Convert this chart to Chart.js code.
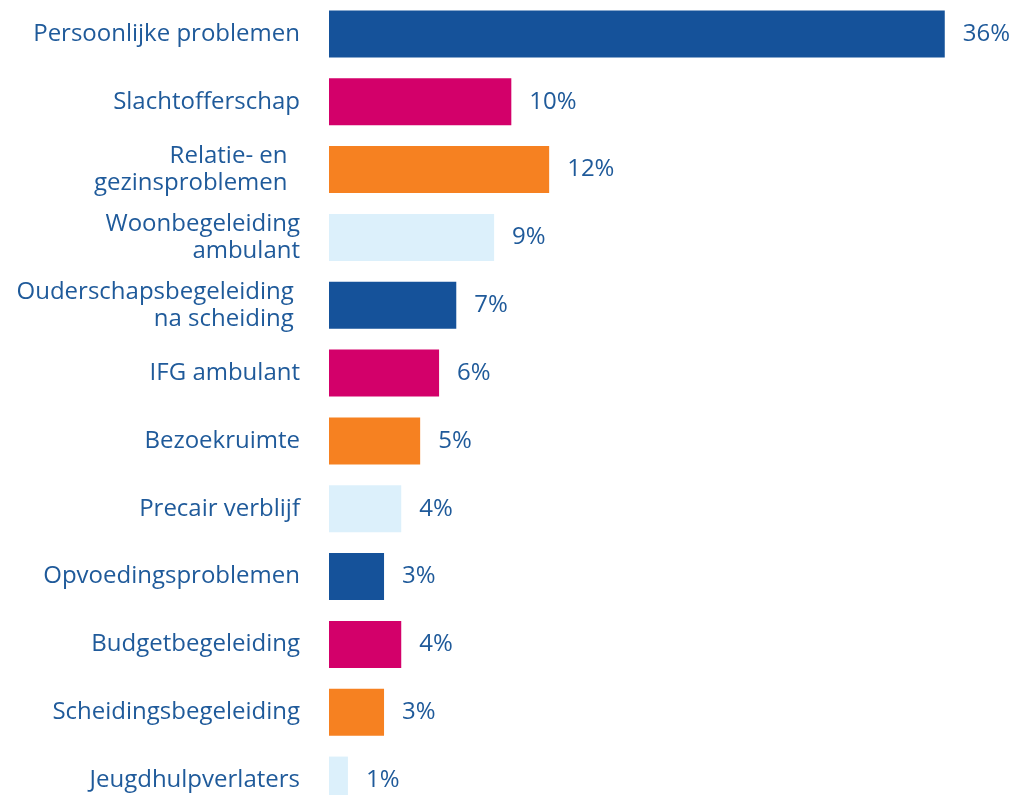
<!DOCTYPE html>
<html>
<head>
<meta charset="utf-8">
<script src="https://cdn.jsdelivr.net/npm/chart.js@4/dist/chart.umd.min.js"></script>
<style>
    html, body { margin: 0; padding: 0; background: #fff; overflow: hidden; }
    #wrap { width: 1017px; height: 814px; position: relative; }
</style>
</head>
<body>
<div id="wrap"><canvas id="hulpChart"></canvas></div>
<script>
var categories = [
    "Persoonlijke problemen",
    "Slachtofferschap",
    ["Relatie- en  ", "gezinsproblemen  "],
    ["Woonbegeleiding", "ambulant"],
    ["Ouderschapsbegeleiding ", "na scheiding "],
    "IFG ambulant",
    "Bezoekruimte",
    "Precair verblijf",
    "Opvoedingsproblemen",
    "Budgetbegeleiding",
    "Scheidingsbegeleiding",
    "Jeugdhulpverlaters"
];
// bar lengths
var values = [35.8, 10.6, 12.8, 9.6, 7.4, 6.4, 5.3, 4.2, 3.2, 4.2, 3.2, 1.1];
// the percentages printed next to the bars
var valueLabels = ["36%", "10%", "12%", "9%", "7%", "6%", "5%", "4%", "3%", "4%", "3%", "1%"];
var barColors = ["#15529a", "#d3006a", "#f68121", "#dcf0fb"];
var textColor = "#1f5a9a";

var valueLabelPlugin = {
    id: "valueLabels",
    afterDatasetsDraw: function(chart) {
        var ctx = chart.ctx;
        var meta = chart.getDatasetMeta(0);
        ctx.save();
        ctx.font = "24px 'Open Sans'";
        ctx.fillStyle = textColor;
        ctx.textAlign = "left";
        ctx.textBaseline = "middle";
        meta.data.forEach(function(bar, i) {
            ctx.fillText(valueLabels[i], bar.x + 18, bar.y);
        });
        ctx.restore();
    }
};

var ctx = document.getElementById("hulpChart").getContext("2d");
var myChart = new Chart(ctx, {
    type: "bar",
    data: {
        labels: categories,
        datasets: [{
            data: values,
            backgroundColor: values.map(function(v, i) {
                return barColors[i % barColors.length];
            }),
            barPercentage: 0.693,
            categoryPercentage: 1
        }]
    },
    options: {
        indexAxis: "y",
        responsive: true,
        maintainAspectRatio: false,
        animation: false,
        layout: { padding: 0 },
        plugins: {
            legend: { display: false },
            tooltip: { enabled: false }
        },
        scales: {
            x: {
                display: false,
                min: 0,
                max: 40
            },
            y: {
                grid: { display: false, drawTicks: false },
                border: { display: false },
                afterFit: function(scale) {
                    scale.width = 329;
                    scale.paddingTop = 0;
                    scale.paddingBottom = 0;
                },
                ticks: {
                    padding: 29,
                    color: textColor,
                    font: { family: "'Open Sans'", size: 24, lineHeight: 1.125 }
                }
            }
        }
    },
    plugins: [valueLabelPlugin]
});
</script>
</body>
</html>
